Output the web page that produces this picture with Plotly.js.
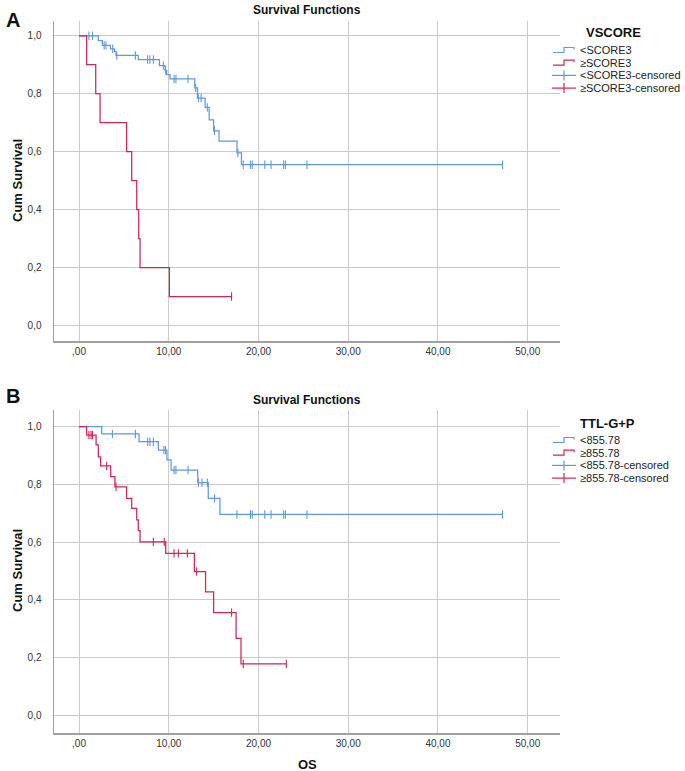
<!DOCTYPE html>
<html><head><meta charset="utf-8">
<script src="https://cdn.plot.ly/plotly-3.0.1.min.js"></script>
<style>html,body{margin:0;padding:0;background:#fff}#chart{width:685px;height:771px}</style>
</head><body><div id="chart"></div>
<script>
// ---------- DATA ----------
// Panel A : VSCORE
const aLowTimes = [0, 2.15, 2.6, 3.5, 3.94, 4.12, 6.6, 8.96, 9.59, 9.77, 10.14, 12.9, 13.2, 14.05, 14.5, 15.0, 15.6, 17.6, 18.1, 47.2];
const aLowSurv  = [1.0, 0.983, 0.967, 0.955, 0.946, 0.932, 0.918, 0.897, 0.88, 0.866, 0.851, 0.82, 0.785, 0.753, 0.71, 0.672, 0.636, 0.596, 0.555, 0.555];
const aLowCens  = [1.1, 1.5, 2.8, 3.0, 3.75, 4.2, 6.28, 7.65, 7.9, 8.28, 9.4, 9.65, 10.59, 10.8, 12.15, 13.0, 13.3, 13.6, 14.3, 15.1, 17.7, 18.3, 19.1, 19.3, 20.7, 21.4, 22.8, 23.0, 25.4, 47.2];
const aHighTimes = [0, 0.85, 1.86, 2.34, 5.3, 5.87, 6.43, 6.65, 6.8, 10.07, 17.0];
const aHighSurv  = [1.0, 0.9, 0.8, 0.7, 0.6, 0.5, 0.4, 0.3, 0.2, 0.1, 0.1];
const aHighCens  = [17.0];
const aNames = ["<SCORE3", "\u2265SCORE3", "<SCORE3-censored", "\u2265SCORE3-censored"];
const aLegendTitle = "VSCORE";

// Panel B : TTL-G+P
const bLowTimes = [0, 2.53, 6.69, 8.84, 9.8, 10.26, 13.23, 14.4, 15.7, 47.2];
const bLowSurv  = [1.0, 0.975, 0.948, 0.919, 0.885, 0.85, 0.806, 0.752, 0.696, 0.696];
const bLowCens  = [3.72, 6.28, 7.65, 7.9, 8.28, 9.45, 9.64, 10.59, 10.8, 12.15, 13.3, 13.7, 14.3, 15.1, 17.6, 19.1, 19.3, 20.7, 21.4, 22.8, 23.0, 25.4, 47.2];
const bHighTimes = [0, 0.85, 1.9, 2.15, 2.4, 3.53, 4.0, 5.3, 5.87, 6.43, 6.6, 6.8, 9.66, 12.85, 14.1, 15.0, 17.5, 18.05, 23.1];
const bHighSurv  = [1.0, 0.971, 0.937, 0.896, 0.864, 0.827, 0.792, 0.752, 0.717, 0.677, 0.64, 0.601, 0.561, 0.498, 0.428, 0.356, 0.267, 0.178, 0.178];
const bHighCens  = [1.1, 1.34, 1.5, 3.08, 4.12, 8.28, 9.5, 10.59, 11.07, 12.07, 13.1, 17.0, 18.3, 23.1];
const bNames = ["<855.78", "\u2265855.78", "<855.78-censored", "\u2265855.78-censored"];
const bLegendTitle = "TTL-G+P";

const xTickVals = [0, 10, 20, 30, 40, 50];
const xTickText = [",00", "10,00", "20,00", "30,00", "40,00", "50,00"];
const yTickVals = [0, 0.2, 0.4, 0.6, 0.8, 1.0];
const yTickText = ["0,0", "0,2", "0,4", "0,6", "0,8", "1,0"];

// ---------- STYLE ----------
const BLUE = "rgb(96,152,222)";
const RED = "rgb(212,36,82)";
const W = 685, H = 771;
const FONT = "Liberation Sans, Arial, sans-serif";
const px = v => v / W;
const py = v => 1 - v / H;

function stepAt(times, surv, t) {
  let s = surv[0];
  for (let i = 0; i < times.length; i++) { if (times[i] <= t) s = surv[i]; }
  return s;
}
function curve(times, surv, color, xa, ya, name) {
  return {x: times, y: surv, type: "scatter", mode: "lines", line: {shape: "hv", color: color, width: 1.25},
          xaxis: xa, yaxis: ya, name: name, showlegend: false, hoverinfo: "x+y"};
}
function cens(ts, times, surv, color, xa, ya, name) {
  return {x: ts, y: ts.map(t => stepAt(times, surv, t)), type: "scatter", mode: "markers",
          marker: {symbol: "line-ns-open", size: 6, color: color, line: {color: color, width: 1.1}},
          xaxis: xa, yaxis: ya, name: name, showlegend: false};
}

const traces = [
  curve(aLowTimes, aLowSurv, BLUE, "x", "y", aNames[0]),
  curve(aHighTimes, aHighSurv, RED, "x", "y", aNames[1]),
  cens(aLowCens, aLowTimes, aLowSurv, BLUE, "x", "y", aNames[2]),
  cens(aHighCens, aHighTimes, aHighSurv, RED, "x", "y", aNames[3]),
  curve(bLowTimes, bLowSurv, BLUE, "x2", "y2", bNames[0]),
  curve(bHighTimes, bHighSurv, RED, "x2", "y2", bNames[1]),
  cens(bLowCens, bLowTimes, bLowSurv, BLUE, "x2", "y2", bNames[2]),
  cens(bHighCens, bHighTimes, bHighSurv, RED, "x2", "y2", bNames[3])
];

function xax(anchor) {
  return {domain: [px(54), px(560)], range: [-2.79, 53.6], anchor: anchor,
    tickvals: xTickVals, ticktext: xTickText, ticks: "", ticklabelstandoff: 0,
    tickfont: {family: FONT, size: 10, color: "#333"},
    showgrid: true, gridcolor: "#cacaca", gridwidth: 1, zeroline: false,
    showline: true, linecolor: "#a0a0a0", linewidth: 1.5, automargin: false, fixedrange: true};
}
function yax(anchor, top, bottom, r0, r1) {
  return {domain: [py(bottom), py(top)], range: [r0, r1], anchor: anchor,
    tickvals: yTickVals, ticktext: yTickText, ticks: "", ticklabelstandoff: 9,
    tickfont: {family: FONT, size: 10, color: "#333"},
    showgrid: true, gridcolor: "#cacaca", gridwidth: 1, zeroline: false,
    showline: true, linecolor: "#a0a0a0", linewidth: 1.5, automargin: false, fixedrange: true};
}

const annotations = [];
const shapes = [];
function ann(text, x, y, size, bold, extra) {
  annotations.push(Object.assign({text: bold ? "<b>" + text + "</b>" : text, x: px(x), y: py(y), xref: "paper", yref: "paper",
    showarrow: false, xanchor: "center", yanchor: "middle", font: {family: FONT, size: size, color: "#111"}}, extra || {}));
}
function legend(title, names, titleX, titleY, firstY, gap) {
  ann(title, titleX, titleY, 13, true);
  const colors = [BLUE, RED, BLUE, RED];
  names.forEach((n, i) => {
    const y = firstY + i * gap;
    ann(n, 578, y, 11, false, {xanchor: "left", font: {family: FONT, size: 11, color: "#222"}});
    const c = colors[i];
    if (i < 2) {
      shapes.push({type: "path", xref: "paper", yref: "paper",
        path: `M${px(553)},${py(y + 2.5)} L${px(564)},${py(y + 2.5)} L${px(564)},${py(y - 2.5)} L${px(574)},${py(y - 2.5)} L${px(574)},${py(y - 0.5)}`,
        line: {color: c, width: 1.2}});
    } else {
      shapes.push({type: "line", xref: "paper", yref: "paper", x0: px(552), x1: px(576), y0: py(y), y1: py(y), line: {color: c, width: 1.2}});
      shapes.push({type: "line", xref: "paper", yref: "paper", x0: px(564), x1: px(564), y0: py(y - 5), y1: py(y + 5), line: {color: c, width: 1.2}});
    }
  });
}

ann("A", 13, 20, 20, true);
ann("B", 13, 396, 20, true);
ann("Survival Functions", 307, 10, 12, true);
ann("Survival Functions", 307, 400, 12, true);
ann("Cum Survival", 17, 181, 13, true, {textangle: -90});
ann("Cum Survival", 17, 571, 13, true, {textangle: -90});
ann("OS", 307, 764, 13, true);
legend(aLegendTitle, aNames, 613, 33, 50, 12.7);
legend(bLegendTitle, bNames, 607, 423, 440, 12.7);

const layout = {
  width: W, height: H, margin: {l: 0, r: 0, t: 0, b: 0},
  paper_bgcolor: "#fff", plot_bgcolor: "#fff", showlegend: false,
  font: {family: FONT},
  xaxis: xax("y"), yaxis: yax("x", 20.7, 341, -0.0535, 1.052),
  xaxis2: xax("y2"), yaxis2: yax("x2", 410, 733, -0.0613, 1.058),
  annotations: annotations, shapes: shapes
};
Plotly.newPlot("chart", traces, layout, {staticPlot: true, displayModeBar: false});
</script></body></html>
